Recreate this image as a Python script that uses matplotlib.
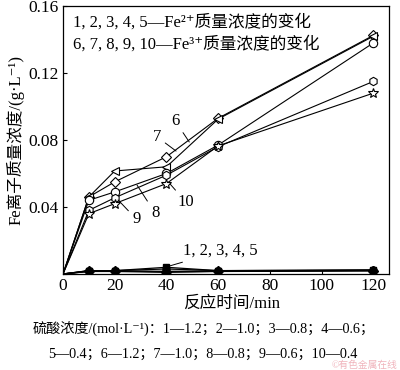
import matplotlib
matplotlib.use("Agg")
import matplotlib.pyplot as plt

plt.rcParams["font.family"] = ["Liberation Serif", "Noto Sans CJK SC", "DejaVu Serif"]

# reaction time, min
t = [0, 10, 20, 40, 60, 120]

# Fe2+ series (1-5), g/L
fe2 = {
    "1": [0, 0.0020, 0.0020, 0.0040, 0.0020, 0.0025],
    "2": [0, 0.0020, 0.0020, 0.0030, 0.0020, 0.0022],
    "3": [0, 0.0018, 0.0018, 0.0016, 0.0018, 0.0022],
    "4": [0, 0.0016, 0.0018, 0.0013, 0.0016, 0.0020],
    "5": [0, 0.0015, 0.0015, 0.0010, 0.0015, 0.0018],
}
fe2_markers = ["s", "o", "^", "D", "v"]

# Fe3+ series (6-10), g/L
fe3 = {
    "6": [0, 0.046, 0.055, 0.070, 0.093, 0.1425],
    "7": [0, 0.046, 0.0615, 0.064, 0.0925, 0.1420],
    "8": [0, 0.044, 0.049, 0.060, 0.077, 0.138],
    "9": [0, 0.038, 0.0455, 0.059, 0.076, 0.115],
    "10": [0, 0.036, 0.042, 0.054, 0.0765, 0.108],
}
fe3_markers = ["D", "<", "o", "h", "*"]
fe3_sizes = [5.5, 6, 6, 6, 7.5]

fig = plt.figure(figsize=(4, 3.7), dpi=100)
ax = fig.add_axes([0.1575, 0.2595, 0.815, 0.7243])

for (name, vals), m in zip(fe2.items(), fe2_markers):
    ax.plot(t, vals, color="black", lw=0.9, marker=m, ms=5,
            mfc="black", mec="black", markevery=list(range(1, len(t))))

for (name, vals), m, s in zip(fe3.items(), fe3_markers, fe3_sizes):
    ax.plot(t, vals, color="black", lw=0.8, marker=m, ms=s,
            mfc="white", mec="black", mew=0.8,
            markevery=list(range(1, len(t))))

ax.set_xlim(0, 126)
ax.set_ylim(0, 0.16)
ax.set_xticks([0, 20, 40, 60, 80, 100, 120])
ax.set_yticks([0, 0.04, 0.08, 0.12, 0.16])
ax.set_yticklabels(["", "0.04", "0.08", "0.12", "0.16"])
ax.tick_params(direction="in", length=3, width=0.8, labelsize=12.5, pad=3)
for sp in ax.spines.values():
    sp.set_linewidth(0.9)

ax.set_ylabel("Fe离子质量浓度/(g·L⁻¹)", fontsize=12, labelpad=3)

ax.text(0.03, 0.94, "1, 2, 3, 4, 5—Fe²⁺质量浓度的变化",
        transform=ax.transAxes, fontsize=12, va="center", ha="left")
ax.text(0.03, 0.858, "6, 7, 8, 9, 10—Fe³⁺质量浓度的变化",
        transform=ax.transAxes, fontsize=12, va="center", ha="left")

lead = dict(arrowstyle="-", color="black", lw=0.7, shrinkA=1, shrinkB=0)
ax.annotate("6", xy=(48.8, 0.0788), xytext=(43.4, 0.0913), fontsize=12,
            ha="center", va="center", arrowprops=lead)
ax.annotate("7", xy=(43.7, 0.0734), xytext=(36.4, 0.0818), fontsize=12,
            ha="center", va="center", arrowprops=lead)
ax.annotate("8", xy=(28.6, 0.0531), xytext=(35.6, 0.0364), fontsize=12,
            ha="center", va="center", arrowprops=lead)
ax.annotate("9", xy=(21.3, 0.0442), xytext=(28.3, 0.0328), fontsize=12,
            ha="center", va="center", arrowprops=lead)
ax.annotate("10", xy=(41.4, 0.0537), xytext=(47.5, 0.0430), fontsize=12,
            ha="center", va="center", arrowprops=lead)
ax.annotate("1, 2, 3, 4, 5", xy=(39.9, 0.0042), xytext=(46.5, 0.0137),
            fontsize=12, ha="left", va="center", arrowprops=lead)

fig.text(232 / 400, 1 - 304 / 370, "反应时间/min", fontsize=12,
         ha="center", va="center")
fig.text(33 / 400, 1 - 329 / 370,
         "硫酸浓度/(mol·L⁻¹)：1—1.2；2—1.0；3—0.8；4—0.6；",
         fontsize=10.2, ha="left", va="center")
fig.text(48 / 400, 1 - 354 / 370,
         "5—0.4；6—1.2；7—1.0；8—0.8；9—0.6；10—0.4",
         fontsize=10.2, ha="left", va="center")
fig.text(398 / 400, 1 - 365 / 370, "©有色金属在线", fontsize=7,
         color="#f0b4bc", ha="right", va="center")

fig.savefig("out.png", dpi=100)
